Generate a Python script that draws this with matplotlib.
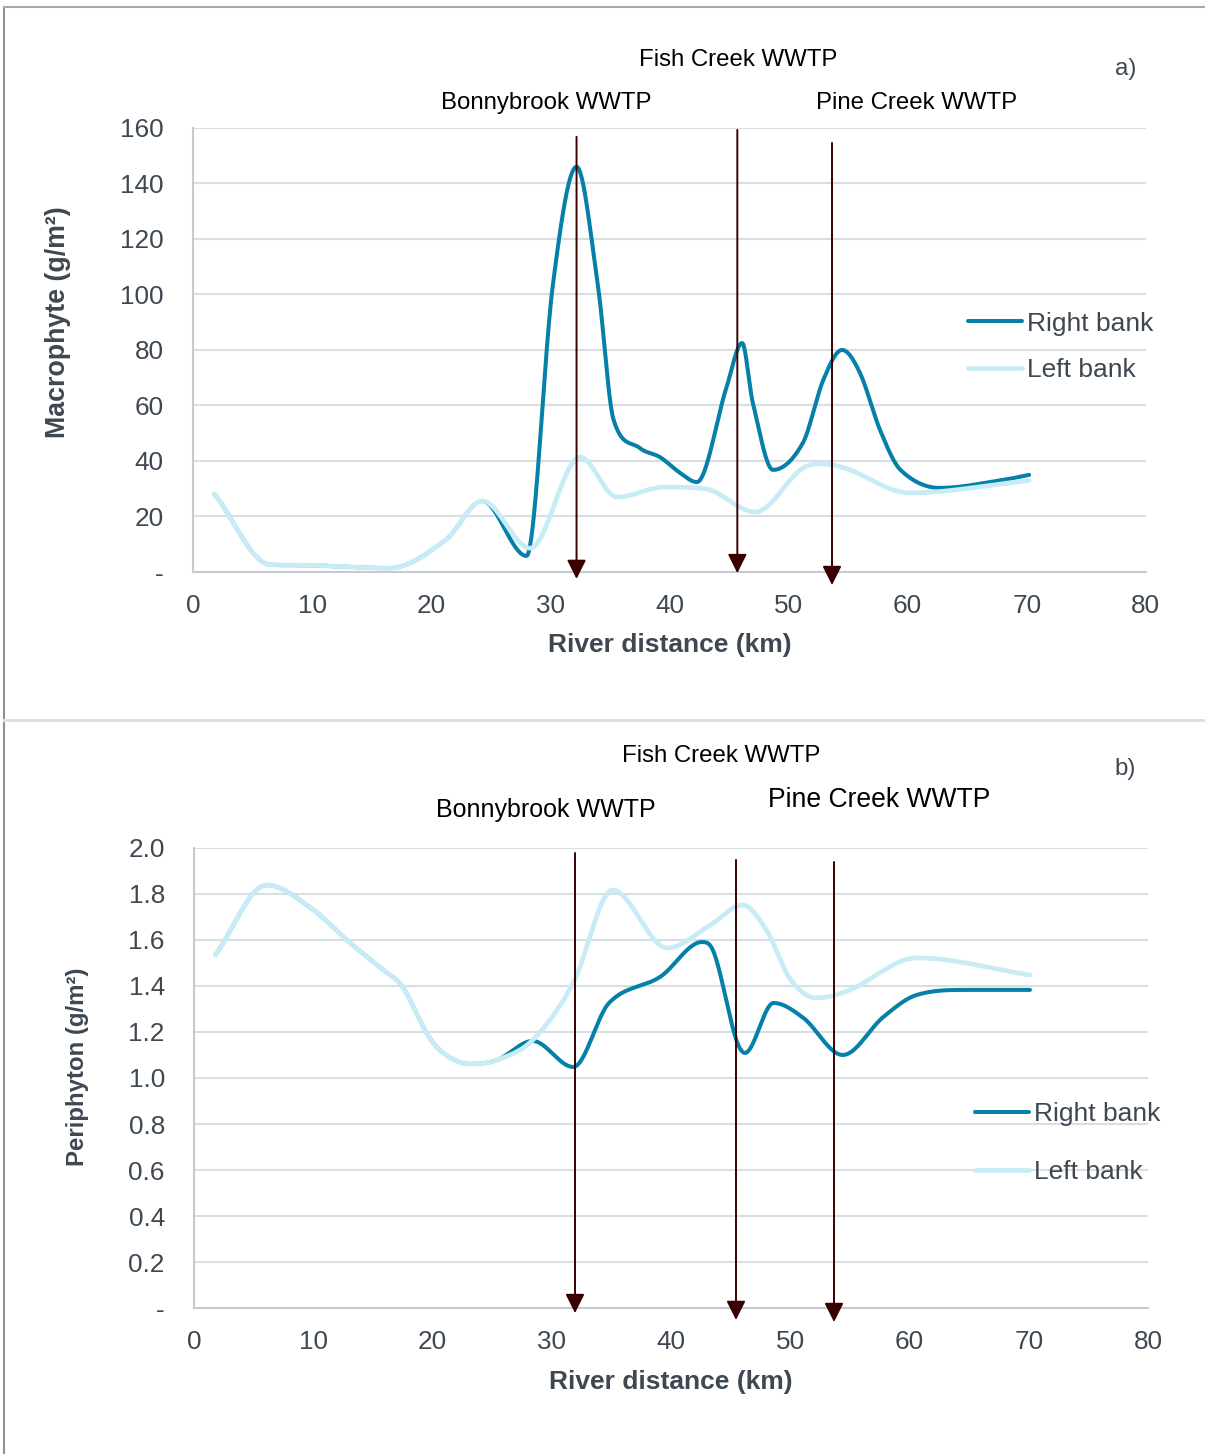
import numpy as np
import matplotlib
matplotlib.use('Agg')
import matplotlib.pyplot as plt
from matplotlib.lines import Line2D

plt.rcParams['font.family'] = ['Liberation Sans', 'DejaVu Sans']

# --- macrophyte survey (panel a) ---
macro_right_km = [1.8, 6.5, 10.0, 16.5, 21.2, 24.3, 28.0, 30.2, 32.2, 34.0, 35.3, 37.5, 39.2, 40.9, 42.3,
                  44.8, 46.1, 47.0, 48.7, 51.2, 52.9, 54.5, 56.0, 57.7, 59.4, 62.7, 67.8, 70.2]
macro_right = [28.1, 2.6, 2.4, 1.4, 11.5, 25.6, 5.8, 103, 146, 103, 55, 44.7, 41.4, 35.7, 32.4,
               66.7, 82.5, 61, 36.8, 46.5, 69, 80, 71.7, 51, 36.8, 30.3, 33, 35]
macro_left_km = [1.8, 6.5, 10.0, 16.5, 21.2, 24.3, 28.3, 32.5, 35.6, 39.6, 43.0, 47.2, 51.0, 52.6,
                 54.7, 60.2, 70.2]
macro_left = [28.1, 2.6, 2.4, 1.4, 11.5, 25.6, 8.6, 41.4, 27.0, 30.6, 30.0, 21.6, 36.8, 39.0,
              37.5, 28.5, 33.0]

# --- periphyton survey (panel b) ---
peri_right_km = [1.8, 6.1, 9.7, 13.1, 15.85, 17.5, 19.5, 20.9, 23.1, 25.4, 28.4, 31.8, 34.8, 39.1,
                 42.6, 43.5, 45.4, 46.2, 48.6, 51.1, 54.4, 57.8, 60.6, 64.8, 70.1]
peri_right = [1.535, 1.839, 1.743, 1.587, 1.47, 1.396, 1.196, 1.109, 1.061, 1.078, 1.161, 1.048, 1.326,
              1.44, 1.591, 1.557, 1.178, 1.109, 1.326, 1.261, 1.10, 1.265, 1.361, 1.383, 1.383]
peri_left_km = [1.8, 6.1, 9.7, 13.1, 15.85, 17.5, 19.5, 20.9, 23.1, 25.4, 28.4, 31.8, 35.1, 39.7,
                43.3, 46.0, 48.0, 50.0, 52.2, 55.0, 60.6, 70.1]
peri_left = [1.535, 1.839, 1.743, 1.587, 1.47, 1.396, 1.196, 1.109, 1.061, 1.078, 1.165, 1.413, 1.817,
             1.565, 1.665, 1.752, 1.643, 1.43, 1.348, 1.383, 1.522, 1.448]

# treatment plant outfalls (km)
plants = ['Bonnybrook WWTP', 'Fish Creek WWTP', 'Pine Creek WWTP']
plant_km_a = [32.2, 45.7, 53.65]
plant_km_b = [31.95, 45.45, 53.67]

macro_yticks = [0, 20, 40, 60, 80, 100, 120, 140, 160]
peri_yticks = [0, 0.2, 0.4, 0.6, 0.8, 1.0, 1.2, 1.4, 1.6, 1.8, 2.0]
x_ticks = [0, 10, 20, 30, 40, 50, 60, 70, 80]

DARK = '#0580A8'
LIGHT = '#C8ECF6'
ARROW = '#3A0000'
TXT = '#3E4852'
GRID = '#D9DEE2'


def smooth(xs, ys, n=40):
    # cubic hermite through the survey points, flat at turning points, no overshoot
    x = np.asarray(xs, float)
    y = np.asarray(ys, float)
    d = np.diff(y) / np.diff(x)
    m = np.empty_like(y)
    m[0], m[-1] = d[0], d[-1]
    for i in range(1, len(y) - 1):
        if d[i - 1] * d[i] <= 0:
            m[i] = 0.0
        else:
            c = (y[i + 1] - y[i - 1]) / (x[i + 1] - x[i - 1])
            lim = 3 * min(abs(d[i - 1]), abs(d[i]))
            m[i] = np.sign(c) * min(abs(c), lim)
    px, py = [], []
    t = np.linspace(0, 1, n, endpoint=False)
    h00 = 2 * t ** 3 - 3 * t ** 2 + 1
    h10 = t ** 3 - 2 * t ** 2 + t
    h01 = -2 * t ** 3 + 3 * t ** 2
    h11 = t ** 3 - t ** 2
    for i in range(len(x) - 1):
        h = x[i + 1] - x[i]
        px.append(x[i] + h * t)
        py.append(h00 * y[i] + h10 * h * m[i] + h01 * y[i + 1] + h11 * h * m[i + 1])
    px.append([x[-1]])
    py.append([y[-1]])
    return np.concatenate(px), np.concatenate(py)


def style_axes(ax, yticks, ylabels):
    ax.set_xlim(0, 80)
    ax.set_ylim(yticks[0], yticks[-1])
    ax.set_xticks(x_ticks)
    ax.set_yticks(yticks)
    ax.set_yticklabels(ylabels)
    ax.tick_params(axis='both', length=0, labelsize=18.8, colors=TXT)
    ax.tick_params(axis='x', pad=16)
    ax.tick_params(axis='y', pad=21)
    ax.grid(axis='y', color=GRID, lw=1.5)
    ax.set_axisbelow(True)
    for s in ['top', 'right']:
        ax.spines[s].set_visible(False)
    for s in ['left', 'bottom']:
        ax.spines[s].set_color('#C5CBD1')
        ax.spines[s].set_linewidth(1.5)


def fy(py):
    return 1 - py / 1454


fig = plt.figure(figsize=(12.05, 14.54), dpi=100)

# ---------- a) macrophyte ----------
ax1 = fig.add_axes([0.1602, 0.6066, 0.7907, 0.3054])
style_axes(ax1, macro_yticks, ['-'] + [str(v) for v in macro_yticks[1:]])
xr, yr = smooth(macro_right_km, macro_right)
xl, yl = smooth(macro_left_km, macro_left)
ax1.plot(xr, yr, color=DARK, lw=2.9, label='Right bank', solid_capstyle='round')
ax1.plot(xl, yl, color=LIGHT, lw=3.4, label='Left bank', solid_capstyle='round')

arrow_a = [(156.8, -2.5), (159.3, -0.4), (154.6, -4.7)]
for km, (y0, y1) in zip(plant_km_a, arrow_a):
    ax1.annotate('', xy=(km, y1), xytext=(km, y0), annotation_clip=False,
                 arrowprops=dict(arrowstyle='-|>', color=ARROW, lw=1.4, mutation_scale=29,
                                 shrinkA=0, shrinkB=0))

ax1.set_xlabel('River distance (km)', fontsize=19, fontweight='bold', color=TXT)
ax1.xaxis.set_label_coords(0.5, -0.165)
ax1.xaxis.label.set_va('center')
ax1.set_ylabel('Macrophyte (g/m²)', fontsize=19.3, fontweight='bold', color=TXT)
ax1.yaxis.set_label_coords(-0.1417, 0.563)
ax1.yaxis.label.set_va('center')

fig.text(546 / 1205, fy(103), plants[0], fontsize=17.3, ha='center', va='center')
fig.text(738 / 1205, fy(60.5), plants[1], fontsize=17.3, ha='center', va='center')
fig.text(917 / 1205, fy(103), plants[2], fontsize=17.3, ha='center', va='center')
fig.text(1126 / 1205, fy(69), 'a)', fontsize=17.3, ha='center', va='center', color=TXT)

ax1.legend(loc='center left', bbox_to_anchor=(968 / 1205, fy(347)),
           bbox_transform=fig.transFigure, frameon=False, fontsize=19, borderpad=0,
           borderaxespad=0, handlelength=2.05, handletextpad=0.2, labelspacing=0.86,
           labelcolor=TXT)

# ---------- b) periphyton ----------
ax2 = fig.add_axes([0.161, 0.1004, 0.7917, 0.3164])
style_axes(ax2, peri_yticks, ['-'] + ['%.1f' % v for v in peri_yticks[1:]])
xr, yr = smooth(peri_right_km, peri_right)
xl, yl = smooth(peri_left_km, peri_left)
ax2.plot(xr, yr, color=DARK, lw=2.9, label='Right bank', solid_capstyle='round')
ax2.plot(xl, yl, color=LIGHT, lw=3.4, label='Left bank', solid_capstyle='round')

arrow_b = [(1.978, -0.022), (1.948, -0.052), (1.939, -0.061)]
for km, (y0, y1) in zip(plant_km_b, arrow_b):
    ax2.annotate('', xy=(km, y1), xytext=(km, y0), annotation_clip=False,
                 arrowprops=dict(arrowstyle='-|>', color=ARROW, lw=1.4, mutation_scale=29,
                                 shrinkA=0, shrinkB=0))

ax2.set_xlabel('River distance (km)', fontsize=19, fontweight='bold', color=TXT)
ax2.xaxis.set_label_coords(0.5, -0.16)
ax2.xaxis.label.set_va('center')
ax2.set_ylabel('Periphyton (g/m²)', fontsize=17.3, fontweight='bold', color=TXT)
ax2.yaxis.set_label_coords(-0.1216, 0.524)
ax2.yaxis.label.set_va('center')

fig.text(546 / 1205, fy(810), plants[0], fontsize=18, ha='center', va='center')
fig.text(721 / 1205, fy(755.5), plants[1], fontsize=17.3, ha='center', va='center')
fig.text(879 / 1205, fy(800), plants[2], fontsize=19.1, ha='center', va='center')
fig.text(1125 / 1205, fy(769), 'b)', fontsize=17.3, ha='center', va='center', color=TXT)

ax2.legend(loc='center left', bbox_to_anchor=(975 / 1205, fy(1143)),
           bbox_transform=fig.transFigure, frameon=False, fontsize=19, borderpad=0,
           borderaxespad=0, handlelength=2.05, handletextpad=0.2, labelspacing=1.28,
           labelcolor=TXT)

# panel frames
fig.add_artist(Line2D([4 / 1205, 4 / 1205], [0, fy(7)], transform=fig.transFigure,
                      color='#8C939B', lw=1.5))
fig.add_artist(Line2D([4 / 1205, 1], [fy(7), fy(7)], transform=fig.transFigure,
                      color='#A3A9AF', lw=1.5))
fig.add_artist(Line2D([4 / 1205, 1], [fy(720), fy(720)], transform=fig.transFigure,
                      color='#DCE1E5', lw=2.2))

fig.savefig('out.png', dpi=100)
